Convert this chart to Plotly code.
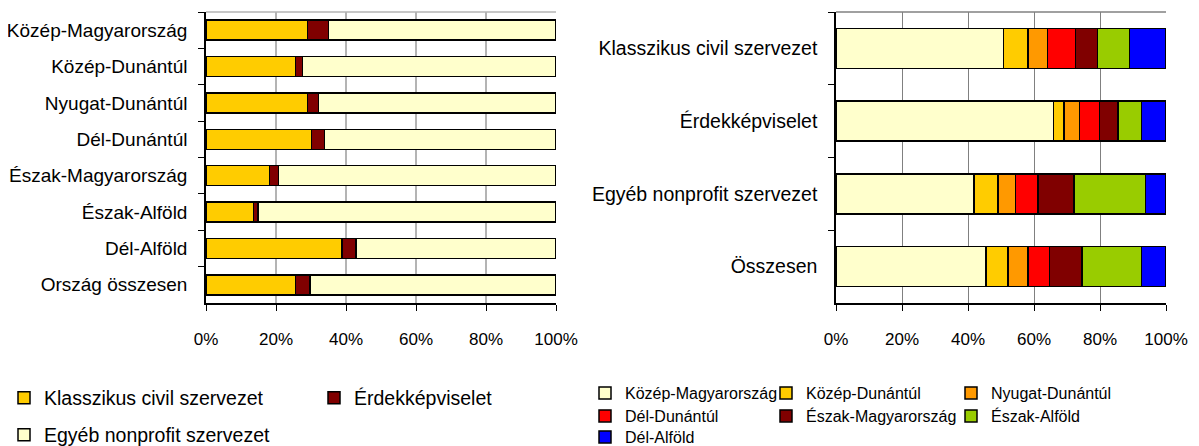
import plotly.graph_objects as go

# left chart: share of organisation types within each region
left_cats = ["Közép-Magyarország", "Közép-Dunántúl", "Nyugat-Dunántúl", "Dél-Dunántúl",
             "Észak-Magyarország", "Észak-Alföld", "Dél-Alföld", "Ország összesen"]
klasszikus = [29.0, 25.6, 29.0, 30.2, 18.2, 13.6, 38.9, 25.6]
erdek = [6.0, 1.9, 3.1, 3.6, 2.5, 1.3, 4.0, 4.1]
egyeb = [65.0, 72.5, 67.9, 66.2, 79.3, 85.1, 57.1, 70.3]

# right chart: regional distribution of each organisation type
right_cats = ["Klasszikus civil szervezet", "Érdekképviselet", "Egyéb nonprofit szervezet", "Összesen"]
kozep_magy = [50.8, 65.9, 41.8, 45.4]
kozep_dunantul = [7.4, 3.2, 7.3, 6.7]
nyugat_dunantul = [5.9, 4.7, 5.3, 6.1]
del_dunantul = [8.5, 6.0, 6.8, 6.5]
eszak_magy = [6.6, 5.7, 10.9, 9.8]
eszak_alfold = [9.8, 7.1, 21.7, 18.1]
del_alfold = [11.0, 7.4, 6.2, 7.4]

x_ticks = [0, 20, 40, 60, 80, 100]
x_tick_labels = ["0%", "20%", "40%", "60%", "80%", "100%"]

FONT = "Liberation Sans, Arial, sans-serif"
# the page body keeps its default 8px margin, so the figure is 8px smaller
# than the window and every screen position is shifted by 8px
OFF = 8
W, H = 1199 - OFF, 446 - OFF


def fx(px):
    return (px - OFF) / W


def fy(py):
    return 1 - (py - OFF) / H


line = dict(color="#000000", width=1.5)

fig = go.Figure()

# (name, values, colour, legend symbol centre x, legend row centre y) in screen pixels
left_series = [
    ("Klasszikus civil szervezet", klasszikus, "#FFCC00", 23, 397),
    ("Érdekképviselet", erdek, "#800000", 333, 397),
    ("Egyéb nonprofit szervezet", egyeb, "#FFFFCC", 23, 434),
]
right_series = [
    ("Közép-Magyarország", kozep_magy, "#FFFFCC", 604, 393),
    ("Közép-Dunántúl", kozep_dunantul, "#FFCC00", 785, 393),
    ("Nyugat-Dunántúl", nyugat_dunantul, "#FF9900", 970, 393),
    ("Dél-Dunántúl", del_dunantul, "#FF0000", 604, 416),
    ("Észak-Magyarország", eszak_magy, "#800000", 785, 416),
    ("Észak-Alföld", eszak_alfold, "#99CC00", 970, 416),
    ("Dél-Alföld", del_alfold, "#0000FF", 604, 437),
]

legends = {}
n = 0
for cats, series, xa, ya, fsize, dy in [(left_cats, left_series, "x", "y", 19.5, 1),
                                        (right_cats, right_series, "x2", "y2", 16, 0)]:
    for name, vals, col, lx, ly in series:
        n += 1
        key = "legend" if n == 1 else f"legend{n}"
        legends[key] = dict(x=fx(lx - 19), y=fy(ly + dy), xanchor="left", yanchor="middle",
                            orientation="h", font=dict(size=fsize, family=FONT, color="#000000"),
                            bgcolor="rgba(0,0,0,0)", borderwidth=0)
        fig.add_trace(go.Bar(
            x=vals, y=cats, orientation="h", name=name,
            marker=dict(color=col, line=line), legend=key,
            xaxis=xa, yaxis=ya, hoverinfo="skip"))

y_dom = [fy(303), fy(12)]

xcommon = dict(range=[0, 100], tickvals=x_ticks, ticktext=x_tick_labels,
               showline=True, linecolor="#000000", linewidth=1.5,
               ticks="outside", ticklen=6, tickcolor="#000000",
               ticklabelstandoff=14, zeroline=False, automargin=False,
               tickfont=dict(size=17, color="#000000"))
ycommon = dict(autorange="reversed", showline=True, linecolor="#000000", linewidth=1.5,
               ticks="outside", tickson="boundaries", ticklen=6, tickcolor="#000000",
               showgrid=False, ticklabelstandoff=13, automargin=False)

fig.update_layout(
    width=W, height=H,
    margin=dict(l=0, r=0, t=0, b=0, autoexpand=False),
    paper_bgcolor="white", plot_bgcolor="white",
    font=dict(family=FONT, size=16, color="#000000"),
    barmode="stack", bargap=0.45,
    xaxis=dict(domain=[fx(206), fx(556)], anchor="y",
               gridcolor="#B4B4B4", gridwidth=1.5, **xcommon),
    yaxis=dict(domain=y_dom, anchor="x", tickfont=dict(size=19, color="#000000"), **ycommon),
    xaxis2=dict(domain=[fx(836), fx(1166)], anchor="y2",
                gridcolor="#808080", gridwidth=1, **xcommon),
    yaxis2=dict(domain=y_dom, anchor="x2", tickfont=dict(size=19.5, color="#000000"), **ycommon),
    showlegend=True,
    **legends,
)

# gray top border of both plot areas
for xr, yr, col in [("x domain", "y domain", "#B4B4B4"), ("x2 domain", "y2 domain", "#808080")]:
    fig.add_shape(type="line", xref=xr, yref=yr, x0=0, x1=1, y0=1, y1=1,
                  line=dict(color=col, width=1.5))

fig.write_html("out.html")
